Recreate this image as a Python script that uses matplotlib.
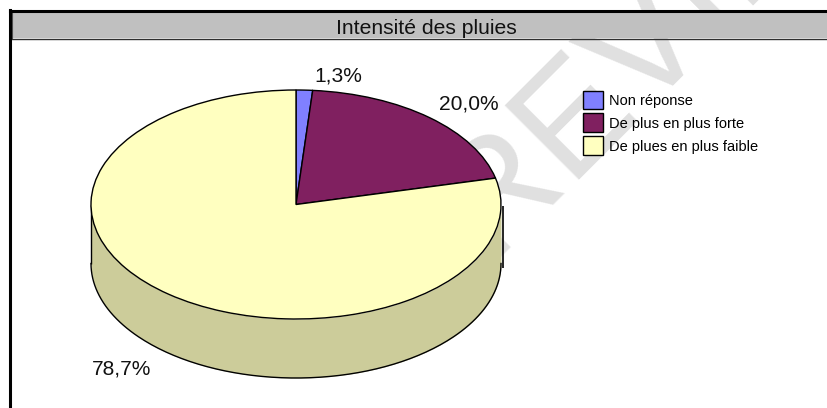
import numpy as np
import matplotlib
matplotlib.use('Agg')
import matplotlib.pyplot as plt
from matplotlib.patches import Rectangle

plt.rcParams['font.family'] = ['Liberation Sans', 'DejaVu Sans']

TITLE = 'Intensité des pluies'
LABELS = ['Non réponse', 'De plus en plus forte', 'De plues en plus faible']
VALUES = [1.3, 20.0, 78.7]
VALUE_TEXT = ['1,3%', '20,0%', '78,7%']
COLORS = ['#8080FF', '#802060', '#FFFFC0']
WALL_COLOR = '#CCCC9A'

W, H = 828, 408
CX, CY = 296, 204.5
RX, RY = 205, 114.5
DEPTH = 59


def main():
    fig = plt.figure(figsize=(W / 100, H / 100), dpi=100)
    # whole figure in pixels, y going down like the screenshot
    ax = fig.add_axes([0, 0, 1, 1])
    ax.set_xlim(0, W)
    ax.set_ylim(H, 0)
    ax.axis('off')

    # watermark
    ax.text(418, 329, 'PREVIEW', fontsize=110, color='#E0E0E0', rotation=45,
            rotation_mode='anchor', ha='left', va='baseline', zorder=1)

    # frame and title bar
    ax.add_patch(Rectangle((12, 12), W - 12, 26, fc='#C0C0C0', ec='none', zorder=2))
    ax.plot([12, W], [38.5, 38.5], color='#303030', lw=1, zorder=3)
    ax.plot([12.5, 12.5], [12, 38], color='#505050', lw=0.8, zorder=3)
    ax.plot([10, W], [10.5, 10.5], color='black', lw=2.2, zorder=3)
    ax.plot([10.5, 10.5], [9.5, H], color='black', lw=2.2, zorder=3)
    ax.text(426, 28.5, TITLE, fontsize=15.2, ha='center', va='center', color='#111111', zorder=4)

    # side wall of the pie
    t = np.linspace(0, np.pi, 200)
    top_x = CX + RX * np.cos(t)
    top_y = CY + RY * np.sin(t)
    ax.fill_between(top_x, top_y, top_y + DEPTH, color=WALL_COLOR, lw=0, zorder=5)
    ax.plot(top_x, top_y + DEPTH, color='black', lw=1, zorder=6)
    ax.plot([CX - RX, CX - RX], [CY, CY + DEPTH], color='black', lw=1, solid_capstyle='butt', zorder=6)
    ax.plot([CX + RX + 2, CX + RX + 2], [CY + 1, CY + DEPTH + 4], color='black', lw=1.2,
            solid_capstyle='butt', zorder=6)

    # top of the pie, stretched to an ellipse by its own axes
    pie_ax = fig.add_axes([(CX - RX) / W, 1 - (CY + RY) / H, 2 * RX / W, 2 * RY / H], zorder=2)
    wedges, _ = pie_ax.pie(VALUES, colors=COLORS, startangle=90, counterclock=False, radius=1,
                           wedgeprops={'edgecolor': 'black', 'linewidth': 1, 'clip_on': False})
    pie_ax.set_aspect('auto')
    pie_ax.set_xlim(-1, 1)
    pie_ax.set_ylim(-1, 1)

    # value labels and legend go over everything
    top = fig.add_axes([0, 0, 1, 1], zorder=3)
    top.set_xlim(0, W)
    top.set_ylim(H, 0)
    top.axis('off')
    for s, x, y in zip(VALUE_TEXT, [338, 469, 122], [76, 104, 369]):
        top.text(x, y, s, fontsize=15.1, ha='center', va='center', color='#111111')
    fs = 10.5
    em = fs * 100 / 72
    top.legend(wedges, LABELS, loc='upper left', bbox_to_anchor=(583 / W, 1 - 90.5 / H), frameon=False,
               fontsize=fs, handlelength=20 / em, handleheight=1.62, handletextpad=6 / em,
               labelspacing=4 / em, borderpad=0, borderaxespad=0)

    fig.savefig('out.png', dpi=100)


if __name__ == '__main__':
    main()
